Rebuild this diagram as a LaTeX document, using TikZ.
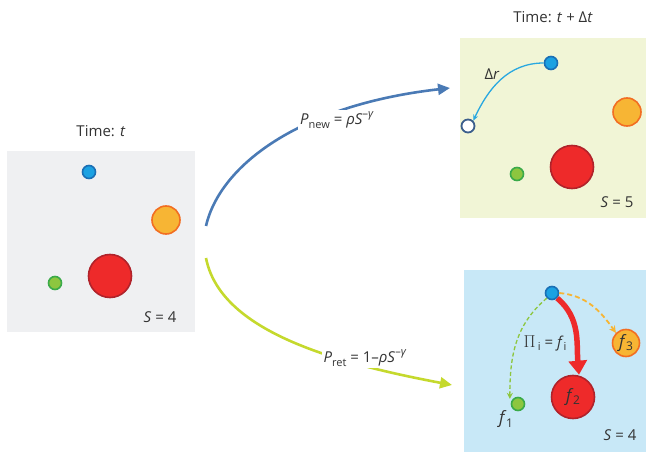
\documentclass[tikz,border=0pt]{standalone}
\usepackage{fontspec}
\setmainfont{Open Sans}
\usetikzlibrary{arrows.meta}
\definecolor{txt}{HTML}{333333}
\definecolor{pgray}{HTML}{EFF0F2}
\definecolor{pyel}{HTML}{F1F5D6}
\definecolor{pblue}{HTML}{C8E8F7}
\definecolor{bfill}{HTML}{1BA1E2}
\definecolor{bline}{HTML}{1A6FB5}
\definecolor{ofill}{HTML}{F7B534}
\definecolor{oline}{HTML}{F26E22}
\definecolor{rfill}{HTML}{EE2A2A}
\definecolor{rline}{HTML}{B0232B}
\definecolor{gfill}{HTML}{8DC63F}
\definecolor{gline}{HTML}{3AAA49}
\definecolor{arrblue}{HTML}{4A7AB5}
\definecolor{arryel}{HTML}{C5D92D}
\definecolor{drblue}{HTML}{29A8E0}
\definecolor{openc}{HTML}{3B5E8C}
\newcommand{\sbs}[1]{\raisebox{-0.45ex}{\fontsize{11}{12}\selectfont #1}}
\newcommand{\sps}[1]{\raisebox{0.85ex}{\fontsize{11}{12}\selectfont #1}}
\newcommand{\fsub}[1]{{\fontsize{17}{19}\selectfont\textit{f}}\kern-0.5pt\raisebox{-0.5ex}{\fontsize{12}{13}\selectfont #1}}
\tikzset{
  panel/.style={draw=none, inner sep=0pt, anchor=north west},
  dot/.style={circle, inner sep=0pt, line width=1.6pt},
  bdot/.style={dot, fill=bfill, draw=bline, minimum size=13pt},
  gdot/.style={dot, fill=gfill, draw=gline, minimum size=13pt},
  odot/.style={dot, fill=ofill, draw=oline, minimum size=28pt},
  rdot/.style={dot, fill=rfill, draw=rline, minimum size=43pt},
  lbl/.style={text=txt, font=\fontsize{15}{17}\selectfont, inner sep=1pt},
  flbl/.style={lbl, fill=white, inner sep=2pt},
}
\begin{document}
\begin{tikzpicture}[x=1pt,y=-1pt]
\useasboundingbox (0,0) rectangle (646,454);
% panels
\fill[pgray] (7,151) rectangle (195,332);
\fill[pyel] (460,38) rectangle (646,218);
\fill[pblue] (464,270) rectangle (646,452);
\node[panel, minimum width=188pt, minimum height=181pt] (L) at (7,151) {};
\node[panel, minimum width=186pt, minimum height=180pt] (TR) at (460,38) {};
\node[panel, minimum width=182pt, minimum height=182pt] (BR) at (464,270) {};

% titles
\node[lbl] (tL) at (101,131) {Time: \textit{t}};
\node[lbl] (tTR) at (553,17) {Time: \textit{t} + Δ\textit{t}};

% left panel
\node[bdot] (Lb) at (89,172) {};
\node[odot] (Lo) at (166,220) {};
\node[rdot] (Lr) at (110,276) {};
\node[gdot] (Lg) at (55,283) {};
\node[lbl] (LS) at (160,317) {\textit{S} = 4};

% top-right panel
\node[bdot] (Tb) at (551,63) {};
\node[circle, inner sep=0pt, minimum size=13pt, draw=openc, fill=white, line width=1.8pt] (Toc) at (468,126) {};
\node[odot] (To) at (627,112) {};
\node[rdot] (Tr) at (572,167) {};
\node[gdot] (Tg) at (517,174) {};
\node[lbl] (TS) at (617,202) {\textit{S} = 5};
\draw[drblue, line width=1.3pt, -{Stealth[length=6pt,width=5pt]}] (Tb.west) to[out=180, in=65] (Toc.north east);
\node[lbl] (Tdr) at (492,74) {Δ\textit{r}};

% bottom-right panel
\node[bdot] (Bb) at (552,293) {};
\node[odot, minimum size=27pt, text=txt] (Bo) at (626,343) {\fsub{3}};
\node[rdot, text=txt] (Br) at (573,397) {\fsub{2}};
\node[gdot] (Bg) at (518,404) {};
\node[lbl] (Bf1) at (506,419) {\fsub{1}};
\node[lbl] (BPi) at (545,343) {{\fontsize{17}{18}\selectfont$\Pi$}\,\sbs{i} = \textit{f}\sbs{i}};
\node[lbl] (BS) at (620,435) {\textit{S} = 4};
\draw[rfill, line width=5.5pt, -{Triangle[length=14pt,width=18pt]}] (Bb.south east) to[out=-40, in=95] ([xshift=6pt]Br.north);
\draw[ofill, line width=1.8pt, dash pattern=on 5pt off 3pt, -{Stealth[length=7pt,width=7pt]}] (Bb.east) to[out=-5, in=125] (Bo.north west);
\draw[gfill, line width=1.3pt, dash pattern=on 4pt off 2.5pt, -{Stealth[length=6pt,width=6pt]}] (Bb.south west) to[out=-140, in=90] ([xshift=-3pt]Bg.north west);

% transition arrows
\coordinate (s1) at (206,226);
\coordinate (e1) at (450,88);
\coordinate (s2) at (206,258);
\coordinate (e2) at (452,385);
\draw[arrblue, line width=2.6pt, -{Triangle[length=12pt,width=11pt]}] (s1) .. controls (220,165) and (300,105) .. (e1);
\draw[arryel, line width=2.6pt, -{Triangle[length=12pt,width=11pt]}] (s2) .. controls (220,330) and (330,362) .. (e2);
\node[flbl] (Pn) at (337,120) {\textit{P}\sbs{new} = \textit{ρS}\sps{–\textit{γ}}};
\node[flbl] (Pr) at (365,358) {\textit{P}\sbs{ret} = 1–\textit{ρS}\sps{–\textit{γ}}};
\end{tikzpicture}
\end{document}
